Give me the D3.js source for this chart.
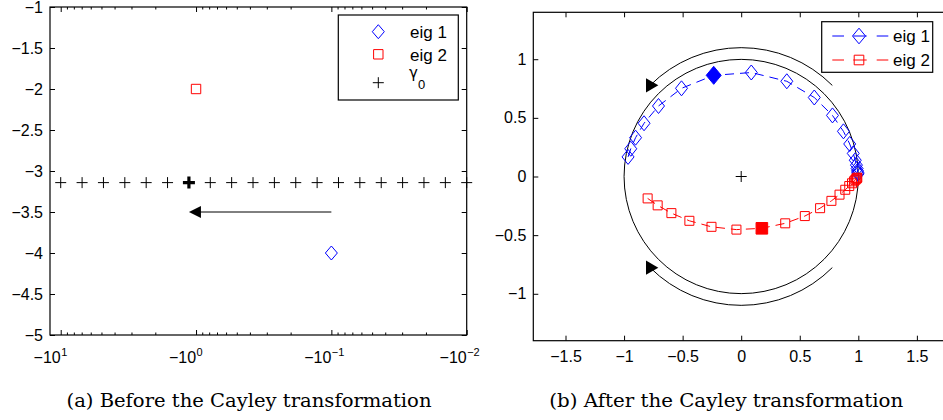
<!DOCTYPE html>
<html>
<head>
<meta charset="utf-8">
<script src="https://cdn.jsdelivr.net/npm/d3@7"></script>
<style>
  body { margin: 0; background: #fff; }
  svg text { font-family: "Liberation Sans", Arial, sans-serif; }
</style>
</head>
<body>
<div id="chart"></div>
<script>
  const w = 943, h = 420

  // ---- (a) before the Cayley transformation ----
  // shifts gamma_0 (real part, log spaced) and their common imaginary part
  const gammaRe = [-10, -6.952, -4.833, -3.360, -2.336, -1.624, -1.129, -0.7848, -0.5456, -0.3793,
                   -0.2637, -0.1833, -0.1274, -0.08859, -0.06158, -0.04281, -0.02976, -0.02069, -0.01438, -0.01]
  const gammaIm = -3.1416
  const gammaPick = 6            // the highlighted shift
  const eig1Before = [-0.1, -4]
  const eig2Before = [-1, -2]
  const arrowA = [-0.1, -1.129]  // tail, head (at y = arrowAy)
  const arrowAy = -3.5
  const xTicksA = [-10, -1, -0.1, -0.01]
  const xExpA = ["1", "0", "\u22121", "\u22122"]
  const yTicksA = [-5, -4.5, -4, -3.5, -3, -2.5, -2, -1.5, -1]

  // ---- (b) after the Cayley transformation ----
  const eig1Re = [-0.9660, -0.9429, -0.9019, -0.8296, -0.7060, -0.5096, -0.2347, 0.0862, 0.3894, 0.6239,
                  0.7793, 0.8729, 0.9265, 0.9567, 0.9739, 0.9838, 0.9897, 0.9933, 0.9956, 0.9971]
  const eig1Im = [0.1671, 0.2365, 0.3310, 0.4539, 0.6012, 0.7518, 0.8625, 0.8866, 0.8119, 0.6737,
                  0.5208, 0.3851, 0.2774, 0.1969, 0.1386, 0.0971, 0.0678, 0.0473, 0.0329, 0.0229]
  const eig2Re = [-0.7988, -0.7132, -0.5960, -0.4424, -0.2536, -0.0407, 0.1764, 0.3759, 0.5432, 0.6736,
                  0.7702, 0.8395, 0.8884, 0.9225, 0.9462, 0.9627, 0.9741, 0.9820, 0.9875, 0.9913]
  const eig2Im = [-0.1867, -0.2460, -0.3124, -0.3777, -0.4290, -0.4528, -0.4417, -0.3992, -0.3374, -0.2701,
                  -0.2076, -0.1548, -0.1130, -0.0813, -0.0579, -0.0409, -0.0288, -0.0201, -0.0141, -0.0098]
  const arcR = 1.1
  const arcEnds = [135, -135]    // degrees, where the arrow heads sit
  const xTicksB = [-1.5, -1, -0.5, 0, 0.5, 1, 1.5]
  const yTicksB = [-1, -0.5, 0, 0.5, 1]

  const blue = "#0000ff", red = "#ff0000"
  const fmt = d3.format("~g")

  // marker shapes
  const diamond = (x, y, rx, ry) => `M${x},${y-ry}L${x+rx},${y}L${x},${y+ry}L${x-rx},${y}Z`
  const square = (x, y, r) => `M${x-r},${y-r}H${x+r}V${y+r}H${x-r}Z`
  const plus = (x, y, r) => `M${x-r},${y}H${x+r}M${x},${y-r}V${y+r}`

  const svg = d3.select("#chart")
                .append("svg")
                .attr("width", w)
                .attr("height", h)
                .attr("viewBox", [0, 0, w, h])

  function styleAxis(g, size) {
    g.select(".domain").remove()
    g.attr("font-size", size).attr("font-family", null)
    g.selectAll("line").attr("stroke", "#000")
    g.selectAll("text").attr("fill", "#000")
  }

  // ================= panel (a) =================
  const xA = d3.scaleLog().domain([-12, -0.01]).range([50, 466.7])
  const yA = d3.scaleLinear().domain([-5, -1]).range([335, 7])

  const minorA = d3.scaleLog().domain([0.01, 12]).ticks()
                   .filter(v => Math.abs(Math.log10(v) - Math.round(Math.log10(v))) > 1e-6)
                   .map(v => -v)

  const ga = svg.append("g")

  ga.append("g").attr("transform", "translate(50,0)")
    .call(d3.axisLeft(yA).tickValues(yTicksA).tickSize(-5).tickPadding(7).tickFormat(fmt))
    .call(g => styleAxis(g, 16))
  ga.append("g").attr("transform", "translate(466.7,0)")
    .call(d3.axisRight(yA).tickValues(yTicksA).tickSize(-5).tickFormat(""))
    .call(g => styleAxis(g, 16))
  ga.append("g").attr("transform", "translate(0,335)")
    .call(d3.axisBottom(xA).tickValues(xTicksA).tickSize(-5).tickFormat(""))
    .call(g => styleAxis(g, 16))
  ga.append("g").attr("transform", "translate(0,335)")
    .call(d3.axisBottom(xA).tickValues(minorA).tickSize(-2.5).tickFormat(""))
    .call(g => styleAxis(g, 16))
  ga.append("g").attr("transform", "translate(0,7)")
    .call(d3.axisTop(xA).tickValues(xTicksA).tickSize(-5).tickFormat(""))
    .call(g => styleAxis(g, 16))
  ga.append("g").attr("transform", "translate(0,7)")
    .call(d3.axisTop(xA).tickValues(minorA).tickSize(-2.5).tickFormat(""))
    .call(g => styleAxis(g, 16))

  // -10^k labels
  const lab = ga.selectAll(".xlab").data(xTicksA).enter().append("g")
  lab.append("text")
     .attr("x", d => xA(d)).attr("y", 363)
     .attr("text-anchor", "end").attr("font-size", 16)
     .text("\u221210")
  lab.append("text")
     .attr("x", d => xA(d) + 0.5).attr("y", 356)
     .attr("font-size", 11)
     .text((d, i) => xExpA[i])

  ga.append("rect")
    .attr("x", 50).attr("y", 7).attr("width", 416.7).attr("height", 328)
    .attr("fill", "none").attr("stroke", "#000").attr("stroke-width", 1.2)

  // gamma_0 crosses
  ga.selectAll(".gamma").data(gammaRe).enter().append("path")
    .attr("d", (d, i) => plus(xA(d), yA(gammaIm), i === gammaPick ? 6 : 5.5))
    .attr("stroke", "#000")
    .attr("stroke-width", (d, i) => i === gammaPick ? 3.2 : 1)
    .attr("fill", "none")

  ga.append("path")
    .attr("d", diamond(xA(eig1Before[0]), yA(eig1Before[1]), 6, 7))
    .attr("fill", "none").attr("stroke", blue)
  ga.append("path")
    .attr("d", square(xA(eig2Before[0]), yA(eig2Before[1]), 4.7))
    .attr("fill", "none").attr("stroke", red)

  // arrow
  const tip = xA(arrowA[1]), ay = yA(arrowAy)
  ga.append("line")
    .attr("x1", xA(arrowA[0])).attr("x2", tip + 11).attr("y1", ay).attr("y2", ay)
    .attr("stroke", "#000").attr("stroke-width", 1)
  ga.append("path")
    .attr("d", `M${tip},${ay}L${tip + 12},${ay - 6}L${tip + 12},${ay + 6}Z`)
    .attr("fill", "#000")

  // legend (a)
  const lgA = ga.append("g")
  lgA.append("rect").attr("x", 338.3).attr("y", 15).attr("width", 120).attr("height", 85)
     .attr("fill", "#fff").attr("stroke", "#000").attr("stroke-width", 1.2)
  lgA.append("path").attr("d", diamond(378.3, 31.7, 6, 7)).attr("fill", "none").attr("stroke", blue)
  lgA.append("path").attr("d", square(378.3, 54.3, 4.7)).attr("fill", "none").attr("stroke", red)
  lgA.append("path").attr("d", plus(378.3, 82.7, 5.5)).attr("fill", "none").attr("stroke", "#000")
  lgA.append("text").attr("x", 410).attr("y", 38.3).attr("font-size", 17).text("eig 1")
  lgA.append("text").attr("x", 410).attr("y", 60.7).attr("font-size", 17).text("eig 2")
  const gt = lgA.append("text").attr("x", 409).attr("y", 78).attr("font-size", 17)
  gt.append("tspan").style("font-family", "'DejaVu Sans', sans-serif").attr("font-size", 15).text("\u03b3")
  gt.append("tspan").attr("dy", 11).attr("font-size", 13).text("0")

  // ================= panel (b) =================
  const xB = d3.scaleLinear().domain([-1.775, 1.775]).range([533.3, 949.1])
  const yB = d3.scaleLinear().domain([-1.4, 1.4]).range([340.7, 12.3])
  const gb = svg.append("g")

  gb.append("g").attr("transform", "translate(533.3,0)")
    .call(d3.axisLeft(yB).tickValues(yTicksB).tickSize(-5).tickPadding(7).tickFormat(fmt))
    .call(g => styleAxis(g, 16))
  gb.append("g").attr("transform", "translate(0,340.7)")
    .call(d3.axisBottom(xB).tickValues(xTicksB).tickSize(-5).tickPadding(10).tickFormat(fmt))
    .call(g => styleAxis(g, 16))
  gb.append("g").attr("transform", "translate(0,12.3)")
    .call(d3.axisTop(xB).tickValues(xTicksB).tickSize(-5).tickFormat(""))
    .call(g => styleAxis(g, 16))
  gb.append("rect")
    .attr("x", 533.3).attr("y", 12.3).attr("width", 415.8).attr("height", 328.4)
    .attr("fill", "none").attr("stroke", "#000").attr("stroke-width", 1.2)

  const cx = xB(0), cy = yB(0)
  const ru = xB(1) - xB(0), ra = xB(arcR) - xB(0)

  gb.append("circle").attr("cx", cx).attr("cy", cy).attr("r", ru)
    .attr("fill", "none").attr("stroke", "#000").attr("stroke-width", 1)

  // the two arcs showing the direction of travel
  const up = d3.path(); up.arc(cx, cy, ra, -Math.PI / 4, -3 * Math.PI / 4, true)
  const dn = d3.path(); dn.arc(cx, cy, ra, Math.PI / 4, 3 * Math.PI / 4, false)
  gb.selectAll(".arc").data([up, dn]).enter().append("path")
    .attr("d", d => d.toString())
    .attr("fill", "none").attr("stroke", "#000").attr("stroke-width", 1)
  gb.selectAll(".head").data(arcEnds).enter().append("path")
    .attr("d", d3.symbol(d3.symbolTriangle, 88))
    .attr("transform", d => `translate(${xB(arcR * Math.cos(d * Math.PI / 180))},${yB(arcR * Math.sin(d * Math.PI / 180))}) rotate(90)`)
    .attr("fill", "#000")

  gb.append("path").attr("d", plus(cx, cy, 5.5)).attr("stroke", "#000").attr("fill", "none")

  const idx = d3.range(eig1Re.length)
  const line1 = d3.line().x(i => xB(eig1Re[i])).y(i => yB(eig1Im[i]))
  const line2 = d3.line().x(i => xB(eig2Re[i])).y(i => yB(eig2Im[i]))

  gb.append("path").attr("d", line1(idx)).attr("fill", "none")
    .attr("stroke", blue).attr("stroke-dasharray", "9,6")
  gb.append("path").attr("d", line2(idx)).attr("fill", "none")
    .attr("stroke", red).attr("stroke-dasharray", "9,6")

  gb.selectAll(".e1").data(idx).enter().append("path")
    .attr("d", i => i === gammaPick ? diamond(xB(eig1Re[i]), yB(eig1Im[i]), 7.5, 9)
                                    : diamond(xB(eig1Re[i]), yB(eig1Im[i]), 6, 7.5))
    .attr("fill", i => i === gammaPick ? blue : "none")
    .attr("stroke", blue)
  gb.selectAll(".e2").data(idx).enter().append("path")
    .attr("d", i => square(xB(eig2Re[i]), yB(eig2Im[i]), i === gammaPick ? 5.8 : 4.5))
    .attr("fill", i => i === gammaPick ? red : "none")
    .attr("stroke", red)

  // legend (b)
  const lgB = gb.append("g")
  lgB.append("rect").attr("x", 821.7).attr("y", 21.7).attr("width", 111).attr("height", 50.6)
     .attr("fill", "#fff").attr("stroke", "#000").attr("stroke-width", 1.2)
  ;[[36, blue, "eig 1"], [60, red, "eig 2"]].forEach(([yy, col, name], k) => {
    lgB.append("line").attr("x1", 832.3).attr("x2", 888.3).attr("y1", yy).attr("y2", yy)
       .attr("stroke", col).attr("stroke-dasharray", "11.7,9.3,13.4,10,11.6,99")
    lgB.append("path")
       .attr("d", k === 0 ? diamond(859, yy, 6.5, 7.8) : square(859, yy, 4.8))
       .attr("fill", "none").attr("stroke", col)
    lgB.append("text").attr("x", 893).attr("y", yy + 5.8).attr("font-size", 17).text(name)
  })

  // captions
  svg.append("text").attr("x", 249).attr("y", 407).attr("text-anchor", "middle")
     .style("font-family", "'DejaVu Serif', serif").attr("font-size", 18)
     .attr("textLength", 365).attr("lengthAdjust", "spacingAndGlyphs")
     .text("(a) Before the Cayley transformation")
  svg.append("text").attr("x", 726.3).attr("y", 407).attr("text-anchor", "middle")
     .style("font-family", "'DejaVu Serif', serif").attr("font-size", 18)
     .attr("textLength", 354).attr("lengthAdjust", "spacingAndGlyphs")
     .text("(b) After the Cayley transformation")
</script>
</body>
</html>
